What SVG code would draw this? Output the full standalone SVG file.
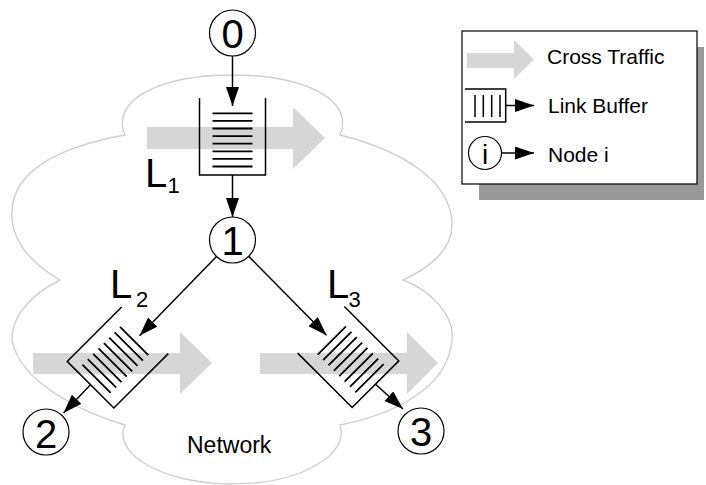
<svg xmlns="http://www.w3.org/2000/svg" xmlns:xlink="http://www.w3.org/1999/xlink" width="706" height="485" viewBox="0 0 706 485">
<style>
.cloud{fill:none;stroke:#cfcfcf;stroke-width:1.4}
.traffic{fill:#d6d6d6;stroke:none}
.wall{fill:none;stroke:#000;stroke-width:1.5}
.pkt{stroke:#000;stroke-width:1.8}
.node{fill:#fff;stroke:#000;stroke-width:1.2}
.num{font-family:"Liberation Sans",Arial,sans-serif;font-size:40px;fill:#000;text-anchor:middle}
.lab{font-family:"Liberation Sans",Arial,sans-serif;font-size:40px;fill:#000}
.sub{font-family:"Liberation Sans",Arial,sans-serif;font-size:22px;fill:#000}
.leg{font-family:"Liberation Sans",Arial,sans-serif;font-size:21px;fill:#000}
.conn{stroke:#000;stroke-width:1.5;fill:none;marker-end:url(#ah)}
</style>
<defs>
<marker id="ah" markerUnits="userSpaceOnUse" markerWidth="20" markerHeight="14" refX="19" refY="6.5" orient="auto">
<path d="M0,0 L19,6.5 L0,13 z" fill="#000"/>
</marker>
<g id="buf">
<path class="wall" d="M-33,-38.5 V38.5 H33 V-38.5"/>
<path class="pkt" d="M-20,-23.2 H20 M-20,-15.6 H20 M-20,-8 H20 M-20,-0.4 H20 M-20,7.2 H20 M-20,14.8 H20 M-20,22.4 H20 M-20,30 H20"/>
</g>
</defs>

<g id="network-cloud">
<path class="cloud" d="M125,135 C110,100 160,75 232,75 C305,75 355,100 340,135 C400,150 452,180 452,225 C452,252 425,270 403,280 C430,290 455,315 452,340 C448,390 390,415 340,425 C350,455 300,484 232,484 C165,484 112,455 125,425 C90,415 20,385 12,340 C12,310 40,290 60,280 C25,260 10,235 12,210 C15,165 70,145 125,135 Z"/>
<text class="leg" x="187" y="453" style="font-size:23px">Network</text>
</g>

<g id="cross-traffic">
<polygon class="traffic" points="147,127 293,127 293,107 325,138 293,169 293,149 147,149"/>
<polygon class="traffic" points="33,353 180,353 180,332 212,363 180,394 180,374 33,374"/>
<polygon class="traffic" points="260,353 407,353 407,332 438,363 407,394 407,374 260,374"/>
</g>

<g id="buffer-L1">
<use xlink:href="#buf" transform="translate(232.5,136.5)"/>
<text class="lab" x="145" y="187">L</text><text class="sub" x="167.5" y="193">1</text>
</g>
<g id="buffer-L2">
<use xlink:href="#buf" transform="translate(117.75,357.5) rotate(45)"/>
<text class="lab" x="110" y="298">L</text><text class="sub" x="136" y="307">2</text>
</g>
<g id="buffer-L3">
<use xlink:href="#buf" transform="translate(348.25,357) rotate(-45)"/>
<text class="lab" x="327" y="298">L</text><text class="sub" x="348.5" y="307">3</text>
</g>

<g id="connectors">
<line class="conn" x1="232.5" y1="56" x2="232.5" y2="106"/>
<line class="conn" x1="232.5" y1="175" x2="232.5" y2="217"/>
<line class="conn" x1="216.5" y1="256.5" x2="139.5" y2="335.7"/>
<line class="conn" x1="248.7" y1="256.4" x2="326.5" y2="335.2"/>
<line class="conn" x1="90.5" y1="384.7" x2="63.5" y2="413"/>
<line class="conn" x1="375.5" y1="384.2" x2="403" y2="409"/>
</g>

<g id="node-0">
<circle class="node" cx="232.5" cy="33" r="23"/>
<text class="num" x="232.5" y="47.5">0</text>
</g>
<g id="node-1">
<circle class="node" cx="232.5" cy="240" r="23"/>
<text class="num" x="232.5" y="254.5">1</text>
</g>
<g id="node-2">
<circle class="node" cx="46" cy="432" r="23"/>
<text class="num" x="46" y="447.5">2</text>
</g>
<g id="node-3">
<circle class="node" cx="421" cy="431" r="23"/>
<text class="num" x="421" y="445.5">3</text>
</g>

<g id="legend">
<rect x="479" y="47" width="225" height="153" fill="#999"/>
<rect x="462" y="31" width="235" height="153" fill="#fff" stroke="#000" stroke-width="1.2"/>
<polygon class="traffic" points="467,53 514,53 514,40 534,59.5 514,79 514,68 467,68"/>
<text class="leg" x="547" y="64">Cross Traffic</text>
<path class="wall" d="M465,89 H505.7 V122 H465"/>
<path class="pkt" style="stroke-width:1.5" d="M475,95 V117 M483.3,95 V117 M491.7,95 V117 M500,95 V117"/>
<line class="conn" x1="505.7" y1="105.5" x2="534" y2="105.5"/>
<text class="leg" x="548" y="113">Link Buffer</text>
<circle class="node" cx="485" cy="153" r="16.5"/>
<text class="num" x="485" y="164" style="font-size:28px">i</text>
<line class="conn" x1="501.5" y1="153" x2="534" y2="153"/>
<text class="leg" x="548" y="162">Node i</text>
</g>
</svg>
